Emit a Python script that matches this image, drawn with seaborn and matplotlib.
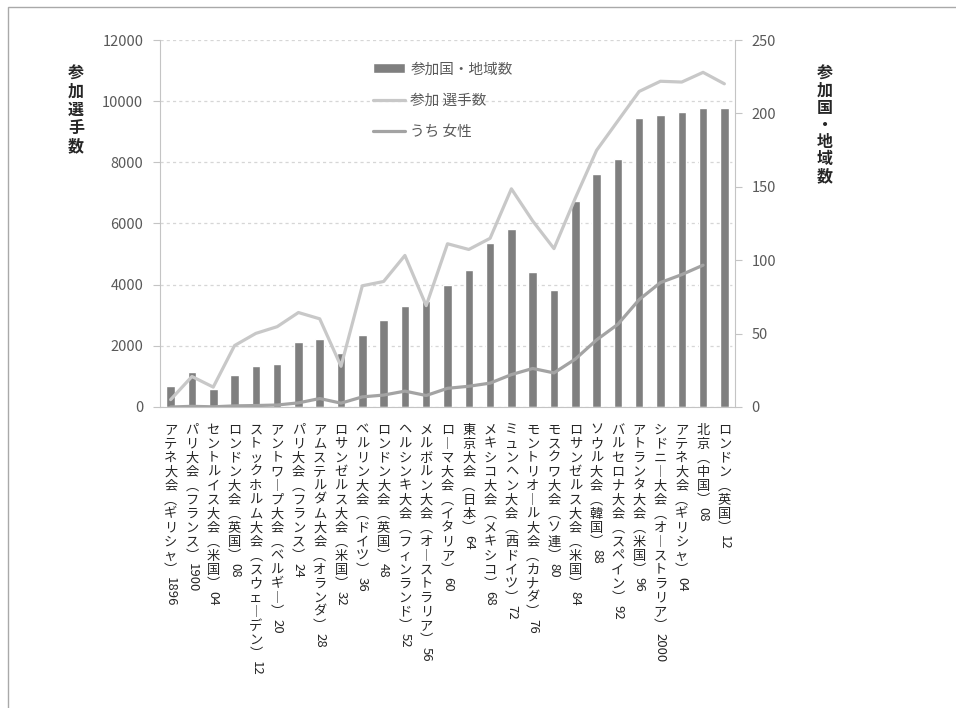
import numpy as np
import pandas as pd
import seaborn as sns
import matplotlib.pyplot as plt
from matplotlib.patches import Rectangle

games = [
    "アテネ大会（ギリシャ）", "パリ大会（フランス）", "セントルイス大会（米国）",
    "ロンドン大会（英国）", "ストックホルム大会（スウェーデン）", "アントワープ大会（ベルギー）",
    "パリ大会（フランス）", "アムステルダム大会（オランダ）", "ロサンゼルス大会（米国）",
    "ベルリン大会（ドイツ）", "ロンドン大会（英国）", "ヘルシンキ大会（フィンランド）",
    "メルボルン大会（オーストラリア）", "ローマ大会（イタリア）", "東京大会（日本）",
    "メキシコ大会（メキシコ）", "ミュンヘン大会（西ドイツ）", "モントリオール大会（カナダ）",
    "モスクワ大会（ソ連）", "ロサンゼルス大会（米国）", "ソウル大会（韓国）",
    "バルセロナ大会（スペイン）", "アトランタ大会（米国）", "シドニー大会（オーストラリア）",
    "アテネ大会（ギリシャ）", "北京（中国）", "ロンドン（英国）",
]
years = ["1896", "1900", "04", "08", "12", "20", "24", "28", "32", "36", "48", "52", "56",
         "60", "64", "68", "72", "76", "80", "84", "88", "92", "96", "2000", "04", "08", "12"]
countries = [14, 24, 12, 22, 28, 29, 44, 46, 37, 49, 59, 69, 72, 83, 93, 112, 121, 92,
             80, 140, 159, 169, 197, 199, 201, 204, 204]
athletes = [241, 997, 651, 2008, 2407, 2626, 3089, 2883, 1332, 3963, 4104, 4955, 3314,
            5338, 5151, 5516, 7134, 6084, 5179, 6829, 8391, 9356, 10318, 10651, 10625,
            10942, 10568]
women = [0, 22, 6, 37, 48, 65, 135, 277, 126, 331, 390, 519, 376, 611, 678, 781, 1059,
         1260, 1115, 1566, 2194, 2704, 3512, 4069, 4329, 4637]

BAR = "#7f7f7f"
ATH = "#c8c8c8"
WOM = "#a3a3a3"
AXIS = "#c4c4c4"
TXT = "#595959"


def vertical(s):
    # stack characters for tate-gaki style labels
    table = str.maketrans({"（": "︵", "）": "︶", "ー": "︱"})
    return "\n".join(s.translate(table))


sns.set_style("white")
plt.rcParams["font.family"] = ["Noto Sans CJK JP", "DejaVu Sans"]

df = pd.DataFrame({
    "pos": np.arange(len(games)),
    "label": [g + y for g, y in zip(games, years)],
    "countries": countries,
    "athletes": athletes,
})
dfw = df.iloc[:len(women)].assign(women=women)

fig = plt.figure(figsize=(9.56, 7.08), dpi=100)
ax = fig.add_axes([160 / 956, 1 - 407 / 708, 575 / 956, 367 / 708])

sns.barplot(data=df, x="label", y="countries", ax=ax, color=BAR, saturation=1,
            width=0.4, label="参加国・地域数")
ax2 = ax.twinx()
sns.lineplot(data=df, x="pos", y="athletes", ax=ax2, color=ATH, lw=2.3,
             label="参加 選手数")
sns.lineplot(data=dfw, x="pos", y="women", ax=ax2, color=WOM, lw=2.3,
             label="うち 女性")

# bars axis on the right, lines axis on the left
ax.yaxis.tick_right()
ax2.yaxis.tick_left()
ax.set_ylim(0, 250)
ax.set_yticks(np.arange(0, 251, 50))
ax2.set_ylim(0, 12000)
ax2.set_yticks(np.arange(0, 12001, 2000))
ax.set_xlim(-0.5, len(games) - 0.5)

# dashed grid at the left-axis steps, kept under the bars
ax.yaxis.remove_overlapping_locs = False
ax.set_yticks(np.linspace(0, 250, 7), minor=True)
ax.set_axisbelow(True)
ax.grid(which="minor", axis="y", color="#d6d6d6", lw=0.9, ls=(0, (2.5, 2.5)))
ax.grid(which="major", axis="y", visible=False)
ax.tick_params(axis="y", which="minor", length=0)

for s in ["left", "right", "bottom"]:
    ax.spines[s].set_visible(True)
    ax.spines[s].set_color(AXIS)
ax.spines["top"].set_visible(False)
for s in ax2.spines.values():
    s.set_visible(False)

ax.tick_params(axis="y", which="major", direction="out", length=5, color=AXIS,
               labelsize=10.5, labelcolor=TXT, pad=7)
ax2.tick_params(axis="y", direction="out", length=5, color=AXIS,
                labelsize=10.5, labelcolor=TXT, pad=7)

ax.set_xticks(df["pos"], [vertical(g) for g in games])
ax.set_xticks(np.arange(-0.5, len(games)), minor=True)
ax.tick_params(axis="x", which="major", length=0, pad=12, labelsize=9.5,
               labelcolor="#262626")
ax.tick_params(axis="x", which="minor", direction="out", length=5, color=AXIS)
for lab in ax.get_xticklabels():
    lab.set_linespacing(1.1)
ax.set_xlabel("")

ax2.set_ylabel(vertical("参加選手数"), fontsize=11.5, fontweight="bold", color="#262626")
ax2.yaxis.label.set(rotation=0, va="top", ha="center", rotation_mode="default",
                    linespacing=1.15)
ax2.yaxis.set_label_coords((76 - 160) / 575, (407 - 66) / 367)

ax.yaxis.set_label_position("right")
ax.set_ylabel(vertical("参加国・地域数"), fontsize=11.5, fontweight="bold", color="#262626")
ax.yaxis.label.set(rotation=0, va="top", ha="center", rotation_mode="default",
                   linespacing=1.08)
ax.yaxis.set_label_coords((825 - 160) / 575, (407 - 66) / 367)

# legend combining both axes
h1, l1 = ax.get_legend_handles_labels()
h2, l2 = ax2.get_legend_handles_labels()
for a in (ax, ax2):
    if a.get_legend() is not None:
        a.get_legend().remove()
fig.legend(h1 + h2, l1 + l2, loc="upper left", bbox_to_anchor=(366 / 956, 1 - 55 / 708),
           frameon=False, fontsize=10.5, handlelength=2.2, handletextpad=0.35,
           labelspacing=1.2, borderpad=0, labelcolor=TXT)

# years written sideways under the stacked names
for lab, yr in zip(ax.get_xticklabels(), years):
    ax.annotate(yr, xy=(0.5, 0), xycoords=lab, xytext=(0, -0.5), textcoords="offset points",
                rotation=-90, ha="center", va="top", fontsize=9.5, color="#262626",
                annotation_clip=False)

fig.patches.append(Rectangle((8 / 956, -0.1), 1.2, 1.1 - 7 / 708, transform=fig.transFigure,
                             fill=False, ec="#a9a9a9", lw=1))

fig.savefig("out.png", dpi=100)
